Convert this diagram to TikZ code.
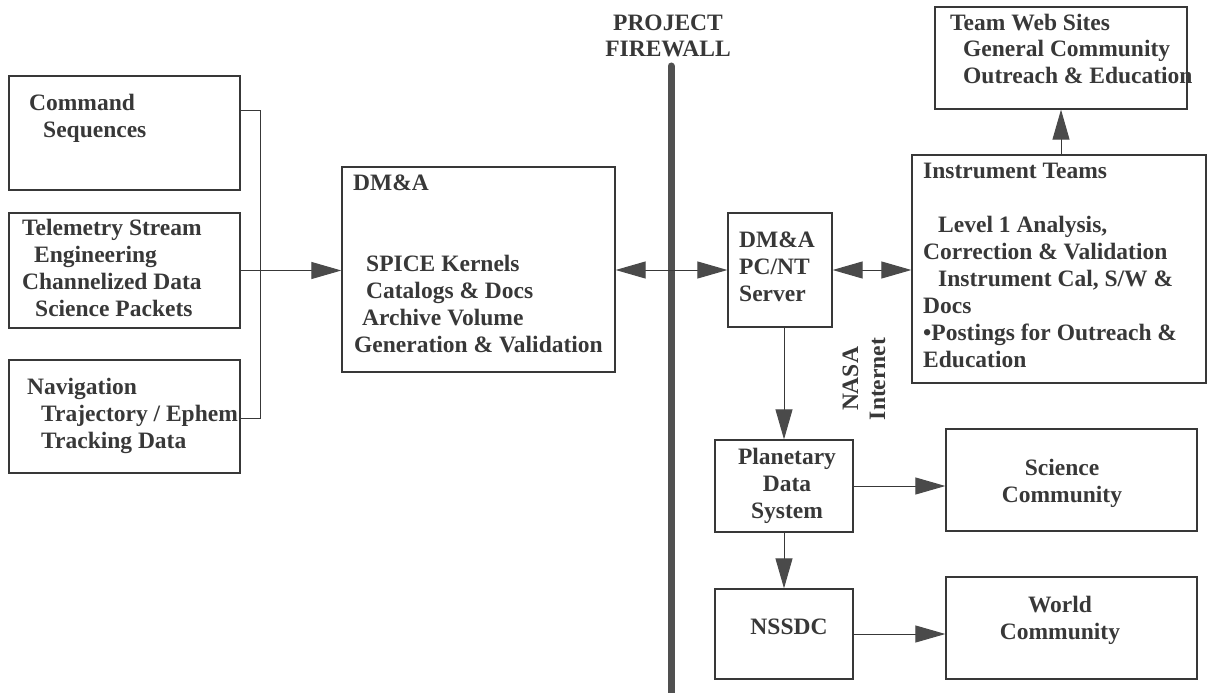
\documentclass[tikz,border=0pt]{standalone}
\usepackage{fontspec}
\setmainfont{Liberation Serif}
\usetikzlibrary{arrows.meta}
\definecolor{ink}{HTML}{383838}
\definecolor{headc}{HTML}{4A4A4A}
\definecolor{wallc}{HTML}{505050}
\tikzset{
  box/.style={draw=ink, line width=1.3pt, inner sep=0pt},
  txt/.style={text=ink, font=\bfseries\fontsize{23.5}{27}\selectfont, inner sep=0pt, align=left},
  ctxt/.style={text=ink, font=\bfseries\fontsize{23.5}{27}\selectfont, inner sep=0pt, align=center},
  conn/.style={draw=ink, line width=1pt},
  arr/.style={conn, -{Triangle[length=30pt,width=17pt,fill=headc,color=headc]}},
  darr/.style={conn, {Triangle[length=30pt,width=17pt,fill=headc,color=headc]}-{Triangle[length=30pt,width=17pt,fill=headc,color=headc]}},
  wall/.style={draw=wallc, line width=7pt, line cap=round}
}
\begin{document}
\begin{tikzpicture}[x=1pt,y=-1pt]
\useasboundingbox (0,0) rectangle (1207,693);
% boxes
\node[box, minimum width=231pt, minimum height=114pt] (cmd) at (124.5,133) {};
\node[box, minimum width=231pt, minimum height=115pt] (tel) at (124.5,270.5) {};
\node[box, minimum width=231pt, minimum height=113pt] (nav) at (124.5,416.5) {};
\node[box, minimum width=273pt, minimum height=205pt] (dma) at (478.5,269.5) {};
\node[box, minimum width=104pt, minimum height=114pt] (srv) at (780,270) {};
\node[box, minimum width=252pt, minimum height=102pt] (web) at (1061,58) {};
\node[box, minimum width=294pt, minimum height=228pt] (inst) at (1059,269) {};
\node[box, minimum width=138pt, minimum height=92pt] (pds) at (784,486) {};
\node[box, minimum width=251pt, minimum height=102pt] (sci) at (1071.5,480) {};
\node[box, minimum width=138pt, minimum height=90pt] (nssdc) at (784,634) {};
\node[box, minimum width=251pt, minimum height=102pt] (wld) at (1071.5,628) {};
% texts (anchor = baseline of the last line)
\node[txt, anchor=base west] (cmdt) at (29,137) {Command\\\hspace*{14pt}Sequences};
\node[txt, anchor=base west] (telt) at (22,316) {Telemetry Stream\\\hspace*{12pt}Engineering\\Channelized Data\\\hspace*{13pt}Science Packets};
\node[txt, anchor=base west] (navt) at (27,448) {Navigation\\\hspace*{14pt}Trajectory / Ephem\\\hspace*{14pt}Tracking Data};
\node[txt, anchor=base west] (dmat) at (353,352) {DM\&A\\[27pt]\\\hspace*{13pt}SPICE Kernels\\\hspace*{13pt}Catalogs \& Docs\\\hspace*{9pt}Archive Volume\\\hspace*{1pt}Generation \& Validation};
\node[txt, anchor=base west] (srvt) at (739,301) {DM\&A\\PC/NT\\Server};
\node[txt, anchor=base west] (webt) at (950,84) {Team Web Sites\\\hspace*{13pt}General Community\\\hspace*{13pt}Outreach \& Education};
\node[txt, anchor=base west] (instt) at (923,367) {Instrument Teams\\[27pt]\hspace*{15pt}Level 1 Analysis,\\Correction \& Validation\\\hspace*{15pt}Instrument Cal, S/W \&\\Docs\\•Postings for Outreach \&\\Education};
\node[ctxt, anchor=base] (pdst) at (787,518) {Planetary\\Data\\System};
\node[ctxt, anchor=base] (scit) at (1062,502) {Science\\Community};
\node[ctxt, anchor=base] (nssdct) at (789,634) {NSSDC};
\node[ctxt, anchor=base] (wldt) at (1060,639) {World\\Community};
\node[ctxt, anchor=base] (fwt) at (668,57) {PROJECT\\FIREWALL};
\node[ctxt, rotate=90] (nasat) at (864,379) {NASA\\Internet};
% firewall
\coordinate (fwtop) at (671,66);
\coordinate (fwbot) at (671,700);
\draw[wall] (fwtop) -- (fwbot);
% bracket
\coordinate (b1) at (260,110);
\coordinate (b3) at (260,418);
\draw[conn] (cmd.east |- b1) -- (b1) -- (b3) -- (nav.east |- b3);
% connectors
\draw[arr] (tel.east) -- (tel.east -| dma.west);
\draw[darr] (dma.east |- srv.west) -- (srv.west);
\draw[darr] (srv.east) -- (srv.east -| inst.west);
\draw[arr] (inst.north -| web.south) -- (web.south);
\draw[arr] (srv.south -| pds.north) -- (pds.north);
\draw[arr] (pds.east) -- (pds.east -| sci.west);
\draw[arr] (pds.south) -- (nssdc.north);
\draw[arr] (nssdc.east) -- (nssdc.east -| wld.west);
\end{tikzpicture}
\end{document}
